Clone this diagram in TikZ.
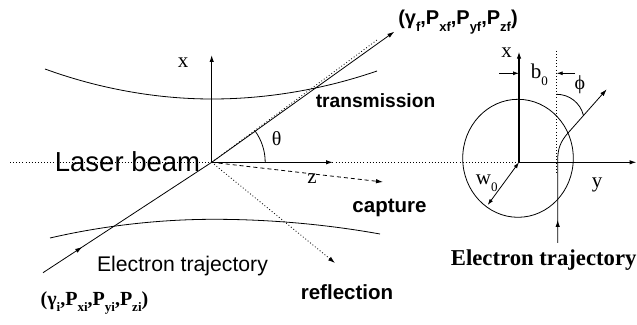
\documentclass[tikz,border=0pt]{standalone}
\usepackage{fontspec}
\setmainfont{Liberation Serif}
\setsansfont{Liberation Sans}
\usetikzlibrary{arrows.meta,decorations.markings}
\newcommand\fs[1]{\fontsize{#1}{#1}\selectfont}
\newcommand\lsub[1]{\raisebox{-0.32em}{\fontsize{13}{13}\selectfont #1}}
\begin{document}
\begin{tikzpicture}[x=1pt,y=1pt,
  >={Latex[length=7pt,width=4.5pt]},
  axis/.style={line width=1.1pt,->},
  traj/.style={line width=0.8pt},
  dots/.style={line width=0.8pt,dash pattern=on 0.9pt off 2.2pt},
  dashes/.style={line width=0.8pt,dash pattern=on 4pt off 3pt},
  small/.style={>={Latex[length=6pt,width=4pt]}},
  lbl/.style={inner sep=0pt},
  midarrow/.style={postaction={decorate},decoration={markings,mark=at position #1 with {\arrow{>}}}}]
\useasboundingbox (0,0) rectangle (637,324);
% ---------- left part ----------
\coordinate (O) at (211.7,161.7);
\coordinate (xtip) at (211.7,269);
\coordinate (ztip) at (333,161.7);
\coordinate (dotL) at (10,161.7);
\coordinate (O2) at (519,161.7);
\coordinate (ein) at (43,51.3);
\coordinate (eout) at (394.3,292.3);
\coordinate (ttip) at (377,284);
\coordinate (ctip) at (383,142);
\coordinate (rtip) at (335,61);
\coordinate (ua) at (45,255);
\coordinate (ub) at (212,225);
\coordinate (uc) at (377,253);
\coordinate (la) at (50,86);
\coordinate (lb) at (214,104.7);
\coordinate (lc) at (380,90);
\draw[dots] (dotL) -- (O2);
\draw[axis] (O) -- (xtip);
\draw[axis] (O) -- (ztip);
\draw[traj] (ua) parabola bend (ub) (uc);
\draw[traj] (la) parabola bend (lb) (lc);
\draw[traj,->,midarrow=0.11] (ein) -- (O) -- (eout);
\draw[dots] (O) -- (ttip);
\draw[dashes,->] (O) -- (ctip);
\draw[dots,->] (O) -- (rtip);
\draw[traj] ([xshift=53.5pt]O) arc[start angle=0,end angle=35.6,radius=53.5];
\node[lbl,anchor=base] (laser) at (127.5,152.3) {\sffamily\fs{27.5}Laser beam};
\node[lbl] (theta) at (276.7,185.7) {\fs{20}θ};
\node[lbl] (xl) at (183,261) {\fs{21}x};
\node[lbl] (zl) at (312,145) {\fs{21}z};
\node[lbl,anchor=base] (trans) at (375.5,216) {\sffamily\bfseries\fs{19.2}transmission};
\node[lbl,anchor=base] (capt) at (389.5,111.3) {\sffamily\bfseries\fs{20.5}capture};
\node[lbl,anchor=base] (refl) at (347,24) {\sffamily\bfseries\fs{20.5}reflection};
\node[lbl,anchor=base] (etl) at (182.5,52.3) {\sffamily\fs{21.2}Electron trajectory};
\node[lbl,anchor=base] (ini) at (94.5,19) {\bfseries\fs{20}(γ\lsub{i},P\lsub{xi},P\lsub{yi},P\lsub{zi})};
\node[lbl,anchor=base] (fin) at (458,299) {\sffamily\bfseries\fs{20}(γ\lsub{f},P\lsub{xf},P\lsub{yf},P\lsub{zf})};
% ---------- right part ----------
\coordinate (x2tip) at (519,272.3);
\coordinate (y2tip) at (636.5,161.7);
\coordinate (dvt) at (556.7,273);
\coordinate (dvb) at (556.7,150);
\coordinate (tr0) at (557.7,81);
\coordinate (tr1) at (557.7,164);
\coordinate (tr2) at (568,191);
\coordinate (tr3) at (606.7,234.7);
\coordinate (phitop) at (556.7,229.7);
\coordinate (bl) at (499.3,250.7);
\coordinate (blt) at (519,250.7);
\coordinate (br) at (575,250.7);
\coordinate (brt) at (556.7,250.7);
\coordinate (wend) at (487.7,119);
\draw[dots] (dvt) -- (dvb);
\draw[axis] (O2) -- (x2tip);
\draw[axis] (O2) -- (y2tip);
\draw[traj] (518,165.7) ellipse [x radius=55.3,y radius=59];
\draw[traj,->,midarrow=23pt] (tr0) -- (tr1) to[out=90,in=228.5] (tr2) -- (tr3);
\draw[traj] (phitop) arc[start angle=90,end angle=14,radius=27.5];
\draw[traj,small,->] (bl) -- (blt);
\draw[traj,small,->] (br) -- (brt);
\draw[traj,small,<->] (O2) -- (wend);
\node[lbl] (x2l) at (506.5,271) {\fs{21}x};
\node[lbl] (y2l) at (597,139) {\fs{21}y};
\node[lbl] (b0) at (539.3,249) {\fs{21}b\lsub{0}};
\node[lbl] (phil) at (580,239) {\fs{20}ϕ};
\node[lbl] (w0) at (486.7,140.7) {\fs{21}w\lsub{0}};
\node[lbl,anchor=base] (etr) at (543.7,59) {\bfseries\fs{22.7}Electron trajectory};
\end{tikzpicture}
\end{document}
